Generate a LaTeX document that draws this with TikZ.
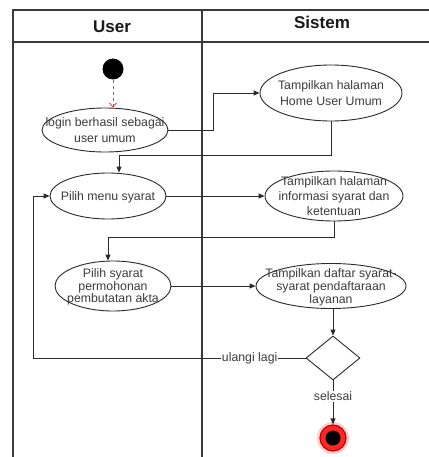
\documentclass[tikz,border=0pt]{standalone}
\usepackage{fontspec}
\setmainfont{Liberation Sans}
\usetikzlibrary{shapes.geometric,arrows.meta}
\definecolor{lane}{HTML}{3A3A3A}
\definecolor{txt}{HTML}{3C3C3C}
\definecolor{edge}{HTML}{2A2A2A}
\newcommand{\ltext}[2]{\makebox[0pt]{\smash{\raisebox{-4.5pt}{\fontsize{12.3}{#1}\selectfont\begin{tabular}{@{}c@{}}#2\end{tabular}}}}}
\tikzset{
  act/.style={draw=edge, line width=0.9pt, ellipse, inner sep=0pt, text=txt},
  flow/.style={draw=edge, line width=0.9pt, -{Triangle[length=6pt,width=5pt]}},
  lanebox/.style={draw=lane, line width=1.1pt},
  lbl/.style={fill=white, inner sep=1pt, text=txt, font=\fontsize{12.3}{14}\selectfont},
  hdr/.style={text=black!90, font=\fontsize{17}{20}\selectfont\bfseries},
}
\begin{document}
\begin{tikzpicture}[x=1pt,y=-1pt]
\fill[white] (0,0) rectangle (428,457);
\useasboundingbox (0,0) rectangle (428,457);
% swimlane frame
\draw[lanebox] (430,10) -- (13,10) -- (13,460);
\draw[lanebox] (13,42) -- (430,42);
\draw[lanebox] (202,10) -- (202,460);
\node[hdr] (huser) at (112,27) {User};
\node[hdr] (hsis) at (322,22) {Sistem};
% nodes
\node[circle, fill=black, minimum size=21pt, inner sep=0pt] (start) at (113,69) {};
\node[act, minimum width=126pt, minimum height=44pt] (login) at (105,130) {\ltext{16}{login berhasil sebagai\\user umum}};
\node[act, minimum width=142pt, minimum height=56pt] (home) at (331,93) {\ltext{16}{Tampilkan halaman\\Home User Umum}};
\node[act, minimum width=116pt, minimum height=46pt] (pmenu) at (108,196) {\ltext{14}{Pilih menu syarat}};
\node[act, minimum width=138pt, minimum height=50pt] (info) at (334,196) {\ltext{15}{Tampilkan halaman\\informasi syarat dan\\ketentuan}};
\node[act, minimum width=116pt, minimum height=50pt] (psyarat) at (113,286) {\ltext{11.5}{Pilih syarat\\permohonan\\pembutatan akta}};
\node[act, minimum width=150pt, minimum height=45pt] (daftar) at (331,286) {\ltext{13}{Tampilkan daftar syarat-\\syarat pendaftaraan\\layanan}};
\node[diamond, draw=edge, line width=0.9pt, minimum width=54pt, minimum height=44pt, inner sep=0pt] (dec) at (333,358) {};
\node[circle, fill=red!20, minimum size=32pt, inner sep=0pt] (halo) at (333,438) {};
\node[circle, draw=red!75!black, line width=1.2pt, fill=red!85, minimum size=26pt, inner sep=0pt] (end) at (333,438) {};
\node[circle, fill=black, minimum size=15pt, inner sep=0pt] (endin) at (333,438) {};
% helper coordinates
\coordinate (c1) at (119,155);
\coordinate (c2) at (108,237);
\coordinate (c3) at (33,358);
% connectors
\draw[dashed, red!80, line width=0.8pt, -{Straight Barb[length=4pt,width=7pt]}] (start) -- (start |- login.north);
\draw[flow] (login.east) -- ++(45,0) |- (home.west);
\draw[flow] (home.south) |- (c1) -- (c1 |- pmenu.north);
\draw[flow] (pmenu.east) -- (info.west);
\draw[flow] (info.south) |- (c2) -- (c2 |- psyarat.north);
\draw[flow] (psyarat.east) -- (daftar.west);
\draw[flow] (dec.north |- daftar.south) -- (dec.north);
\draw[flow] (dec.west) -- node[lbl, pos=0.205] {ulangi lagi} (c3) |- (pmenu.west);
\draw[flow] (dec.south) -- node[lbl, pos=0.36] {selesai} (end.north);
\end{tikzpicture}
\end{document}
